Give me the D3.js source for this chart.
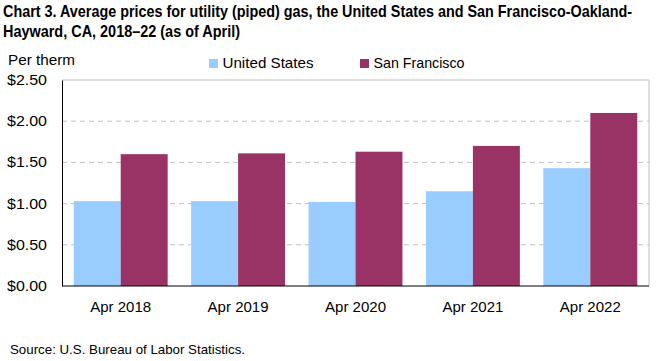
<!DOCTYPE html>
<html>
<head>
<meta charset="utf-8">
<script src="https://cdn.jsdelivr.net/npm/d3@7"></script>
<style>
  body { margin: 0; background: #fff; }
  text { font-family: "Liberation Sans", Arial, sans-serif; fill: #000; }
</style>
</head>
<body>
<svg id="chart" width="661" height="361"></svg>
<script>
// data
const years = ['Apr 2018', 'Apr 2019', 'Apr 2020', 'Apr 2021', 'Apr 2022'];
const seriesNames = ['United States', 'San Francisco'];
const usPrices = [1.03, 1.03, 1.02, 1.15, 1.43];
const sfPrices = [1.60, 1.61, 1.63, 1.70, 2.10];
const yTicks = [0, 0.5, 1.0, 1.5, 2.0, 2.5];
const colors = ['#99ccff', '#993366'];

const svg = d3.select('#chart');
const margin = {top: 80, right: 12, bottom: 75, left: 62};
const innerWidth = 661 - margin.left - margin.right;
const innerHeight = 361 - margin.top - margin.bottom;

const rows = years.map((y, i) => ({year: y, values: [usPrices[i], sfPrices[i]]}));

const xScale = d3.scaleBand().domain(years).range([0, innerWidth]).paddingInner(0.2).paddingOuter(0.1);
const xSub = d3.scaleBand().domain([0, 1]).range([0, xScale.bandwidth()]);
const yScale = d3.scaleLinear().domain([0, 2.5]).range([innerHeight, 0]);

// fit liberation sans to the narrower widths of the original font
const squeeze = (sel, w) => sel.attr('textLength', w).attr('lengthAdjust', 'spacingAndGlyphs');

const g = svg.append('g').attr('transform', `translate(${margin.left},${margin.top})`);

// gridlines
g.selectAll('.grid').data(yTicks.filter(t => t > 0 && t < 2.5)).join('line')
  .attr('x1', 0).attr('x2', innerWidth)
  .attr('y1', d => yScale(d)).attr('y2', d => yScale(d))
  .attr('stroke', '#c0c0c0').attr('stroke-dasharray', '5,4');

// top & right border
g.append('path')
  .attr('d', `M0,${yScale(2.5)}H${innerWidth}V${innerHeight}`)
  .attr('fill', 'none').attr('stroke', '#c0c0c0');

// bars
const groups = g.selectAll('.grp').data(rows).join('g')
  .attr('transform', d => `translate(${xScale(d.year)},0)`);
groups.selectAll('rect').data(d => d.values).join('rect')
  .attr('x', (d, i) => xSub(i))
  .attr('width', xSub.bandwidth())
  .attr('y', d => yScale(d))
  .attr('height', d => innerHeight - yScale(d))
  .attr('fill', (d, i) => colors[i]);

// y axis
const yAxis = d3.axisLeft(yScale).tickValues(yTicks).tickSize(0).tickPadding(15)
  .tickFormat(d => '$' + d3.format('.2f')(d));
const yg = g.append('g').call(yAxis);
yg.select('.domain').attr('stroke', '#000');
yg.selectAll('text').attr('font-size', 14).style('font-family', null).call(squeeze, 40);

// x axis
const xAxis = d3.axisBottom(xScale).tickSize(0).tickPadding(15);
const xg = g.append('g').attr('transform', `translate(0,${innerHeight})`).call(xAxis);
xg.select('.domain').attr('stroke', '#000').attr('d', `M0,0H${innerWidth}`);
xg.selectAll('text').attr('font-size', 15).style('font-family', null).call(squeeze, 61);

// title
const title = ['Chart 3. Average prices for utility (piped) gas, the United States and San Francisco-Oakland-',
               'Hayward, CA, 2018\u201322 (as of April)'];
const titleW = [629, 237];
svg.selectAll('.title').data(title).join('text')
  .attr('x', 3).attr('y', (d, i) => 17 + i * 20)
  .attr('font-size', 17).attr('font-weight', 'bold')
  .attr('textLength', (d, i) => titleW[i]).attr('lengthAdjust', 'spacingAndGlyphs')
  .text(d => d);

svg.append('text').attr('x', 8).attr('y', 65).attr('font-size', 14).text('Per therm').call(squeeze, 67);

// legend
const legend = svg.selectAll('.legend').data(seriesNames).join('g')
  .attr('transform', (d, i) => `translate(${209 + i * 151},59)`);
legend.append('rect').attr('width', 9).attr('height', 9).attr('fill', (d, i) => colors[i]);
legend.append('text').attr('x', 13.5).attr('y', 9).attr('font-size', 15).text(d => d).call(squeeze, 91);

svg.append('text').attr('x', 10).attr('y', 354).attr('font-size', 13)
  .text('Source: U.S. Bureau of Labor Statistics.').call(squeeze, 235);
</script>
</body>
</html>
